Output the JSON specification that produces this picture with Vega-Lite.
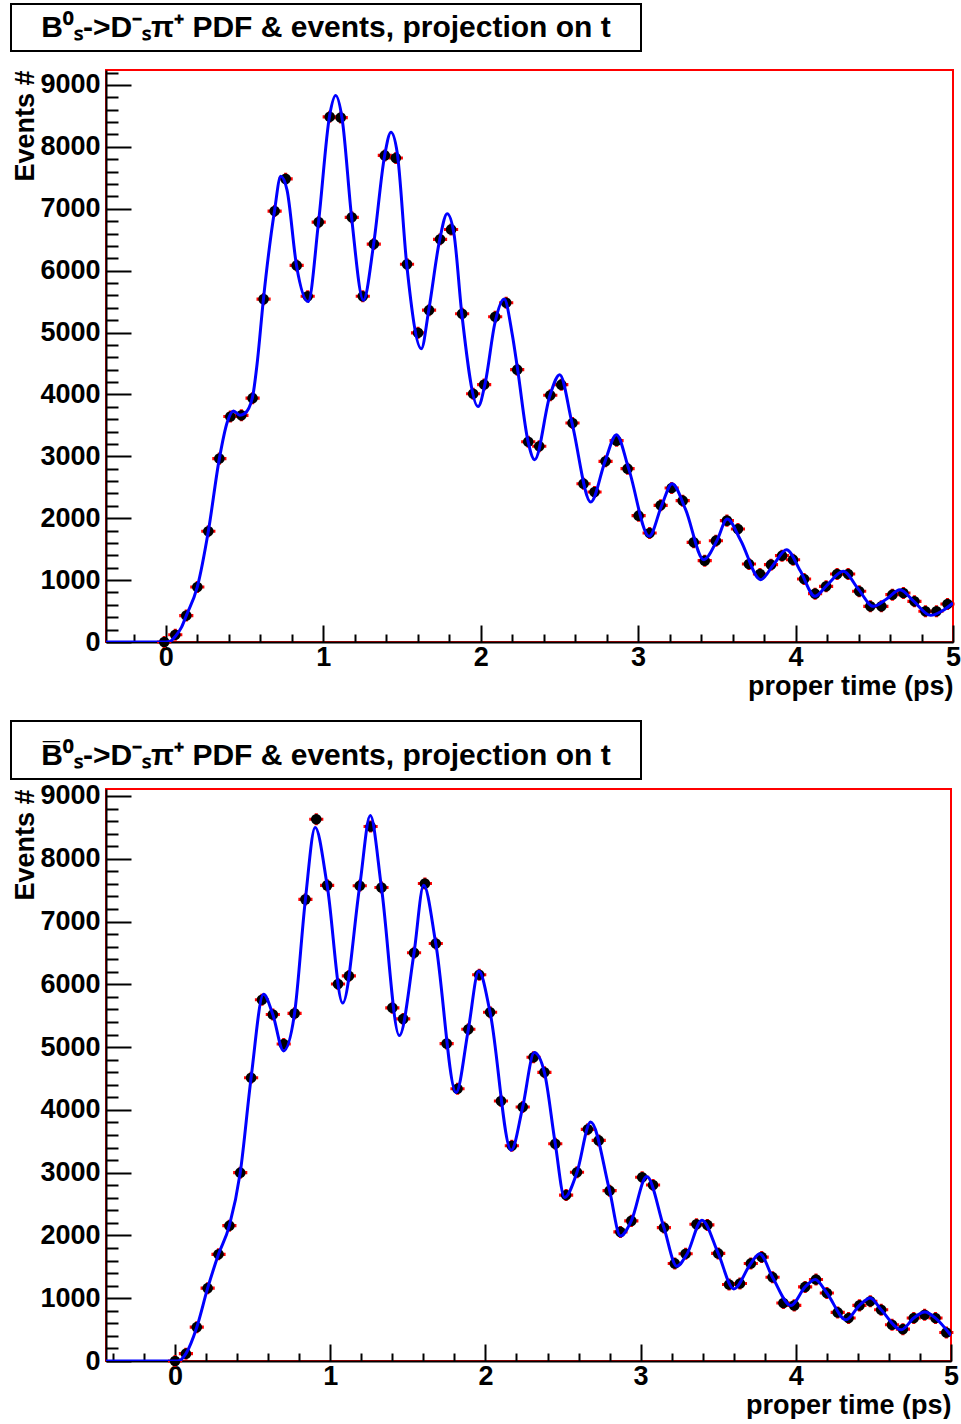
{
  "$schema": "https://vega.github.io/schema/vega-lite/v6.json",
  "background": "white",
  "padding": {"left": 3, "top": 3, "right": 4, "bottom": 0},
  "spacing": 20,
  "config": {
    "font": "Liberation Sans",
    "view": {"stroke": null},
    "axis": {
      "grid": false,
      "labelFont": "Liberation Sans",
      "labelFontWeight": "bold",
      "labelColor": "black",
      "labelOverlap": false,
      "labelFlush": false,
      "titleFont": "Liberation Sans",
      "titleFontWeight": "bold",
      "titleFontSize": 27,
      "titleColor": "black",
      "domainColor": "black",
      "domainWidth": 2,
      "tickColor": "black",
      "tickWidth": 2
    }
  },
  "datasets": {
    "bsEvents": [
      {"t": -0.010, "n": 0}, {"t": 0.060, "n": 118}, {"t": 0.130, "n": 427}, {"t": 0.200, "n": 889},
      {"t": 0.270, "n": 1789}, {"t": 0.340, "n": 2963}, {"t": 0.410, "n": 3644}, {"t": 0.480, "n": 3662},
      {"t": 0.551, "n": 3940}, {"t": 0.621, "n": 5540}, {"t": 0.691, "n": 6962}, {"t": 0.761, "n": 7483},
      {"t": 0.831, "n": 6085}, {"t": 0.901, "n": 5587}, {"t": 0.971, "n": 6784}, {"t": 1.041, "n": 8485},
      {"t": 1.111, "n": 8473}, {"t": 1.181, "n": 6861}, {"t": 1.251, "n": 5587}, {"t": 1.321, "n": 6429},
      {"t": 1.391, "n": 7862}, {"t": 1.461, "n": 7821}, {"t": 1.532, "n": 6103}, {"t": 1.602, "n": 4995},
      {"t": 1.672, "n": 5362}, {"t": 1.742, "n": 6506}, {"t": 1.812, "n": 6666}, {"t": 1.882, "n": 5303},
      {"t": 1.952, "n": 4011}, {"t": 2.022, "n": 4159}, {"t": 2.092, "n": 5256}, {"t": 2.162, "n": 5481},
      {"t": 2.232, "n": 4400}, {"t": 2.302, "n": 3235}, {"t": 2.372, "n": 3162}, {"t": 2.442, "n": 3986},
      {"t": 2.512, "n": 4158}, {"t": 2.583, "n": 3539}, {"t": 2.653, "n": 2558}, {"t": 2.723, "n": 2424},
      {"t": 2.793, "n": 2919}, {"t": 2.863, "n": 3253}, {"t": 2.933, "n": 2801}, {"t": 3.003, "n": 2041},
      {"t": 3.073, "n": 1761}, {"t": 3.143, "n": 2208}, {"t": 3.213, "n": 2488}, {"t": 3.283, "n": 2284},
      {"t": 3.353, "n": 1610}, {"t": 3.423, "n": 1314}, {"t": 3.494, "n": 1637}, {"t": 3.564, "n": 1961},
      {"t": 3.634, "n": 1826}, {"t": 3.704, "n": 1260}, {"t": 3.774, "n": 1099}, {"t": 3.844, "n": 1250},
      {"t": 3.914, "n": 1395}, {"t": 3.984, "n": 1330}, {"t": 4.054, "n": 1018}, {"t": 4.124, "n": 781},
      {"t": 4.194, "n": 899}, {"t": 4.264, "n": 1099}, {"t": 4.334, "n": 1099}, {"t": 4.404, "n": 819},
      {"t": 4.475, "n": 576}, {"t": 4.545, "n": 576}, {"t": 4.615, "n": 765}, {"t": 4.685, "n": 792},
      {"t": 4.755, "n": 657}, {"t": 4.825, "n": 496}, {"t": 4.895, "n": 496}, {"t": 4.965, "n": 614}
    ],
    "bsPdf": [
      {"t": -0.38, "n": 0}, {"t": 0.0, "n": 0}, {"t": 0.03, "n": 15}, {"t": 0.06, "n": 90},
      {"t": 0.10, "n": 240}, {"t": 0.13, "n": 427}, {"t": 0.20, "n": 889}, {"t": 0.27, "n": 1789},
      {"t": 0.34, "n": 2963}, {"t": 0.39, "n": 3550}, {"t": 0.43, "n": 3733}, {"t": 0.47, "n": 3665},
      {"t": 0.50, "n": 3690}, {"t": 0.55, "n": 3950}, {"t": 0.58, "n": 4500}, {"t": 0.62, "n": 5540},
      {"t": 0.69, "n": 6960}, {"t": 0.73, "n": 7525}, {"t": 0.77, "n": 7300}, {"t": 0.83, "n": 6085},
      {"t": 0.904, "n": 5500}, {"t": 0.97, "n": 6784}, {"t": 1.04, "n": 8500}, {"t": 1.079, "n": 8828},
      {"t": 1.12, "n": 8450}, {"t": 1.18, "n": 6861}, {"t": 1.255, "n": 5522}, {"t": 1.32, "n": 6429},
      {"t": 1.39, "n": 7862}, {"t": 1.43, "n": 8236}, {"t": 1.47, "n": 7900}, {"t": 1.53, "n": 6103},
      {"t": 1.623, "n": 4740}, {"t": 1.67, "n": 5362}, {"t": 1.74, "n": 6506}, {"t": 1.787, "n": 6920},
      {"t": 1.83, "n": 6600}, {"t": 1.88, "n": 5303}, {"t": 1.983, "n": 3804}, {"t": 2.03, "n": 4200},
      {"t": 2.09, "n": 5150}, {"t": 2.149, "n": 5540}, {"t": 2.20, "n": 4977}, {"t": 2.234, "n": 4414},
      {"t": 2.30, "n": 3250}, {"t": 2.343, "n": 2946}, {"t": 2.44, "n": 3986}, {"t": 2.502, "n": 4320},
      {"t": 2.58, "n": 3539}, {"t": 2.699, "n": 2262}, {"t": 2.79, "n": 2919}, {"t": 2.862, "n": 3350},
      {"t": 2.94, "n": 2801}, {"t": 3.07, "n": 1707}, {"t": 3.15, "n": 2208}, {"t": 3.216, "n": 2558},
      {"t": 3.30, "n": 2150}, {"t": 3.417, "n": 1330}, {"t": 3.50, "n": 1637}, {"t": 3.566, "n": 1987},
      {"t": 3.65, "n": 1650}, {"t": 3.778, "n": 1007}, {"t": 3.86, "n": 1250}, {"t": 3.943, "n": 1492},
      {"t": 4.03, "n": 1150}, {"t": 4.123, "n": 738}, {"t": 4.20, "n": 920}, {"t": 4.303, "n": 1142},
      {"t": 4.40, "n": 850}, {"t": 4.494, "n": 576}, {"t": 4.58, "n": 700}, {"t": 4.663, "n": 846},
      {"t": 4.75, "n": 660}, {"t": 4.858, "n": 431}, {"t": 4.93, "n": 500}, {"t": 5.0, "n": 630}
    ],
    "bsbarEvents": [
      {"t": 0.00, "n": 0}, {"t": 0.07, "n": 117}, {"t": 0.14, "n": 539}, {"t": 0.21, "n": 1160},
      {"t": 0.28, "n": 1699}, {"t": 0.35, "n": 2156}, {"t": 0.42, "n": 3000}, {"t": 0.49, "n": 4511},
      {"t": 0.56, "n": 5754}, {"t": 0.63, "n": 5519}, {"t": 0.70, "n": 5050}, {"t": 0.77, "n": 5537},
      {"t": 0.84, "n": 7353}, {"t": 0.91, "n": 8630}, {"t": 0.98, "n": 7576}, {"t": 1.05, "n": 6005},
      {"t": 1.12, "n": 6134}, {"t": 1.19, "n": 7570}, {"t": 1.26, "n": 8513}, {"t": 1.33, "n": 7541},
      {"t": 1.40, "n": 5625}, {"t": 1.47, "n": 5449}, {"t": 1.54, "n": 6503}, {"t": 1.61, "n": 7605},
      {"t": 1.68, "n": 6650}, {"t": 1.75, "n": 5056}, {"t": 1.82, "n": 4336}, {"t": 1.89, "n": 5285},
      {"t": 1.96, "n": 6152}, {"t": 2.03, "n": 5554}, {"t": 2.10, "n": 4142}, {"t": 2.17, "n": 3428},
      {"t": 2.24, "n": 4045}, {"t": 2.31, "n": 4838}, {"t": 2.38, "n": 4598}, {"t": 2.45, "n": 3460},
      {"t": 2.52, "n": 2643}, {"t": 2.59, "n": 3006}, {"t": 2.66, "n": 3690}, {"t": 2.73, "n": 3514},
      {"t": 2.80, "n": 2713}, {"t": 2.87, "n": 2056}, {"t": 2.94, "n": 2232}, {"t": 3.01, "n": 2926},
      {"t": 3.08, "n": 2804}, {"t": 3.15, "n": 2125}, {"t": 3.22, "n": 1554}, {"t": 3.29, "n": 1709},
      {"t": 3.36, "n": 2179}, {"t": 3.43, "n": 2168}, {"t": 3.50, "n": 1714}, {"t": 3.57, "n": 1218},
      {"t": 3.64, "n": 1234}, {"t": 3.71, "n": 1554}, {"t": 3.78, "n": 1655}, {"t": 3.85, "n": 1335},
      {"t": 3.92, "n": 924}, {"t": 3.99, "n": 886}, {"t": 4.06, "n": 1180}, {"t": 4.13, "n": 1298},
      {"t": 4.20, "n": 1084}, {"t": 4.27, "n": 774}, {"t": 4.34, "n": 684}, {"t": 4.41, "n": 886},
      {"t": 4.48, "n": 950}, {"t": 4.55, "n": 817}, {"t": 4.62, "n": 577}, {"t": 4.69, "n": 507},
      {"t": 4.76, "n": 684}, {"t": 4.83, "n": 737}, {"t": 4.90, "n": 684}, {"t": 4.97, "n": 454}
    ],
    "bsbarPdf": [
      {"t": -0.445, "n": 0}, {"t": 0.0, "n": 0}, {"t": 0.03, "n": 10}, {"t": 0.07, "n": 117},
      {"t": 0.14, "n": 539}, {"t": 0.21, "n": 1160}, {"t": 0.28, "n": 1699}, {"t": 0.35, "n": 2156},
      {"t": 0.42, "n": 3000}, {"t": 0.49, "n": 4511}, {"t": 0.57, "n": 5841}, {"t": 0.63, "n": 5519},
      {"t": 0.699, "n": 4939}, {"t": 0.77, "n": 5537}, {"t": 0.84, "n": 7353}, {"t": 0.903, "n": 8496},
      {"t": 0.98, "n": 7576}, {"t": 1.08, "n": 5701}, {"t": 1.19, "n": 7570}, {"t": 1.258, "n": 8689},
      {"t": 1.33, "n": 7541}, {"t": 1.445, "n": 5185}, {"t": 1.54, "n": 6503}, {"t": 1.602, "n": 7576},
      {"t": 1.68, "n": 6650}, {"t": 1.811, "n": 4277}, {"t": 1.89, "n": 5285}, {"t": 1.957, "n": 6211},
      {"t": 2.03, "n": 5554}, {"t": 2.166, "n": 3357}, {"t": 2.24, "n": 4045}, {"t": 2.315, "n": 4913},
      {"t": 2.38, "n": 4598}, {"t": 2.45, "n": 3460}, {"t": 2.51, "n": 2606}, {"t": 2.59, "n": 3006},
      {"t": 2.678, "n": 3807}, {"t": 2.80, "n": 2713}, {"t": 2.87, "n": 1992}, {"t": 2.94, "n": 2232},
      {"t": 3.039, "n": 2937}, {"t": 3.15, "n": 2125}, {"t": 3.233, "n": 1511}, {"t": 3.30, "n": 1709},
      {"t": 3.395, "n": 2243}, {"t": 3.50, "n": 1714}, {"t": 3.60, "n": 1148}, {"t": 3.71, "n": 1554},
      {"t": 3.767, "n": 1709}, {"t": 3.85, "n": 1335}, {"t": 3.968, "n": 886}, {"t": 4.06, "n": 1180},
      {"t": 4.125, "n": 1298}, {"t": 4.20, "n": 1084}, {"t": 4.324, "n": 657}, {"t": 4.41, "n": 886},
      {"t": 4.479, "n": 1004}, {"t": 4.55, "n": 817}, {"t": 4.68, "n": 497}, {"t": 4.76, "n": 684},
      {"t": 4.832, "n": 780}, {"t": 4.90, "n": 684}, {"t": 5.0, "n": 406}
    ]
  },
  "vconcat": [
    {
      "spacing": 16,
      "vconcat": [
        {
          "spacing": 0,
          "hconcat": [
            {
              "width": 7,
              "height": 1,
              "view": {"stroke": null},
              "data": {"values": [{}]},
              "mark": {"type": "point", "opacity": 0, "size": 0, "filled": true, "strokeWidth": 0}
            },
            {
              "width": 630,
              "height": 47,
              "view": {"stroke": "black", "strokeWidth": 2, "fill": "white"},
              "data": {"values": [{"label": "B⁰ₛ->D⁻ₛπ⁺ PDF & events, projection on t"}]},
              "mark": {"type": "text", "font": "Liberation Sans", "fontWeight": "bold", "fontSize": 30, "align": "center", "baseline": "middle", "color": "black"},
              "encoding": {"text": {"field": "label", "type": "nominal"}}
            }
          ]
        },
        {
          "spacing": 0,
          "hconcat": [
            {
              "width": 7,
              "height": 1,
              "view": {"stroke": null},
              "data": {"values": [{}]},
              "mark": {"type": "point", "opacity": 0, "size": 0, "filled": true, "strokeWidth": 0}
            },
            {
              "width": 847,
              "height": 572,
              "view": {"stroke": "#ff0000", "strokeWidth": 2, "fill": "white"},
              "encoding": {
                "x": {
                  "field": "t", "type": "quantitative",
                  "scale": {"domain": [-0.38, 5], "nice": false, "zero": false},
                  "axis": {
                    "title": "proper time (ps)", "titleAnchor": "end", "titlePadding": -6,
                    "values": [-0.2, 0, 0.2, 0.4, 0.6, 0.8, 1, 1.2, 1.4, 1.6, 1.8, 2, 2.2, 2.4, 2.6, 2.8, 3, 3.2, 3.4, 3.6, 3.8, 4, 4.2, 4.4, 4.6, 4.8, 5],
                    "tickCount": 100,
                    "labelExpr": "abs(datum.value - round(datum.value)) < 0.001 ? format(datum.value, 'd') : ''",
                    "labelFontSize": 27,
                    "tickSize": {"condition": {"test": "abs(datum.value - round(datum.value)) < 0.001", "value": -17}, "value": -8},
                    "labelPadding": 19
                  }
                },
                "y": {
                  "field": "n", "type": "quantitative",
                  "scale": {"domain": [0, 9242], "nice": false},
                  "axis": {
                    "title": "Events #", "titleAnchor": "end", "titlePadding": 0,
                    "values": [0, 200, 400, 600, 800, 1000, 1200, 1400, 1600, 1800, 2000, 2200, 2400, 2600, 2800, 3000, 3200, 3400, 3600, 3800, 4000, 4200, 4400, 4600, 4800, 5000, 5200, 5400, 5600, 5800, 6000, 6200, 6400, 6600, 6800, 7000, 7200, 7400, 7600, 7800, 8000, 8200, 8400, 8600, 8800, 9000, 9200],
                    "tickCount": 100,
                    "format": "d",
                    "labelExpr": "datum.value % 1000 === 0 ? datum.label : ''",
                    "labelFontSize": {"condition": {"test": "datum.value % 1000 === 0", "value": 27}, "value": 0},
                    "tickSize": {"condition": {"test": "datum.value % 1000 === 0", "value": -25}, "value": -12},
                    "labelPadding": 31
                  }
                }
              },
              "layer": [
                {
                  "data": {"name": "bsEvents"},
                  "mark": {"type": "point", "shape": "M-1,-0.22H1V0.22H-1Z M-0.22,-0.85H0.22V0.85H-0.22Z", "filled": true, "color": "#ff0000", "size": 200, "opacity": 1, "strokeWidth": 0}
                },
                {
                  "data": {"name": "bsEvents"},
                  "mark": {"type": "circle", "color": "black", "size": 113, "opacity": 1}
                },
                {
                  "data": {"name": "bsPdf"},
                  "mark": {"type": "line", "color": "#0000ff", "strokeWidth": 3, "interpolate": "monotone", "clip": true}
                }
              ]
            }
          ]
        }
      ]
    },
    {
      "spacing": 0,
      "vconcat": [
        {
          "spacing": 0,
          "hconcat": [
            {
              "width": 7,
              "height": 1,
              "view": {"stroke": null},
              "data": {"values": [{}]},
              "mark": {"type": "point", "opacity": 0, "size": 0, "filled": true, "strokeWidth": 0}
            },
            {
              "width": 630,
              "height": 58,
              "view": {"stroke": "black", "strokeWidth": 2, "fill": "white"},
              "data": {"values": [{"label": "B̅⁰ₛ->D⁻ₛπ⁺ PDF & events, projection on t"}]},
              "mark": {"type": "text", "font": "Liberation Sans", "fontWeight": "bold", "fontSize": 30, "align": "center", "baseline": "middle", "dy": 6, "color": "black"},
              "encoding": {"text": {"field": "label", "type": "nominal"}}
            }
          ]
        },
        {
          "spacing": 0,
          "hconcat": [
            {
              "width": 7,
              "height": 1,
              "view": {"stroke": null},
              "data": {"values": [{}]},
              "mark": {"type": "point", "opacity": 0, "size": 0, "filled": true, "strokeWidth": 0}
            },
            {
              "width": 845,
              "height": 572,
              "view": {"stroke": "#ff0000", "strokeWidth": 2, "fill": "white"},
              "encoding": {
                "x": {
                  "field": "t", "type": "quantitative",
                  "scale": {"domain": [-0.445, 5], "nice": false, "zero": false},
                  "axis": {
                    "title": "proper time (ps)", "titleAnchor": "end", "titlePadding": -6,
                    "values": [-0.4, -0.2, 0, 0.2, 0.4, 0.6, 0.8, 1, 1.2, 1.4, 1.6, 1.8, 2, 2.2, 2.4, 2.6, 2.8, 3, 3.2, 3.4, 3.6, 3.8, 4, 4.2, 4.4, 4.6, 4.8, 5],
                    "tickCount": 100,
                    "labelExpr": "abs(datum.value - round(datum.value)) < 0.001 ? format(datum.value, 'd') : ''",
                    "labelFontSize": 27,
                    "tickSize": {"condition": {"test": "abs(datum.value - round(datum.value)) < 0.001", "value": -17}, "value": -8},
                    "labelPadding": 19
                  }
                },
                "y": {
                  "field": "n", "type": "quantitative",
                  "scale": {"domain": [0, 9111], "nice": false},
                  "axis": {
                    "title": "Events #", "titleAnchor": "end", "titlePadding": 0,
                    "values": [0, 200, 400, 600, 800, 1000, 1200, 1400, 1600, 1800, 2000, 2200, 2400, 2600, 2800, 3000, 3200, 3400, 3600, 3800, 4000, 4200, 4400, 4600, 4800, 5000, 5200, 5400, 5600, 5800, 6000, 6200, 6400, 6600, 6800, 7000, 7200, 7400, 7600, 7800, 8000, 8200, 8400, 8600, 8800, 9000],
                    "tickCount": 100,
                    "format": "d",
                    "labelExpr": "datum.value % 1000 === 0 ? datum.label : ''",
                    "labelFontSize": {"condition": {"test": "datum.value % 1000 === 0", "value": 27}, "value": 0},
                    "tickSize": {"condition": {"test": "datum.value % 1000 === 0", "value": -25}, "value": -12},
                    "labelPadding": 31
                  }
                }
              },
              "layer": [
                {
                  "data": {"name": "bsbarEvents"},
                  "mark": {"type": "point", "shape": "M-1,-0.22H1V0.22H-1Z M-0.22,-0.85H0.22V0.85H-0.22Z", "filled": true, "color": "#ff0000", "size": 200, "opacity": 1, "strokeWidth": 0}
                },
                {
                  "data": {"name": "bsbarEvents"},
                  "mark": {"type": "circle", "color": "black", "size": 113, "opacity": 1}
                },
                {
                  "data": {"name": "bsbarPdf"},
                  "mark": {"type": "line", "color": "#0000ff", "strokeWidth": 3, "interpolate": "monotone", "clip": true}
                }
              ]
            }
          ]
        }
      ]
    }
  ]
}
